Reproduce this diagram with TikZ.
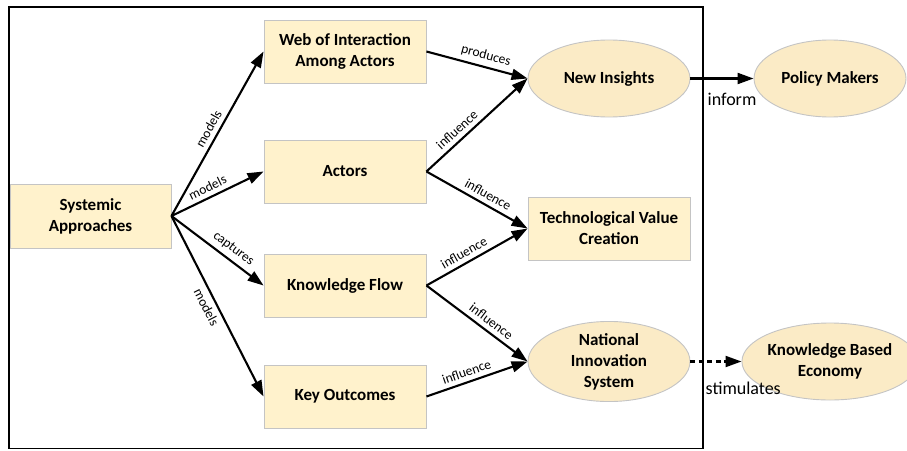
\documentclass[tikz,border=0pt]{standalone}
\usepackage{fontspec}
\setmainfont{Carlito}
\usetikzlibrary{arrows.meta,shapes.geometric,positioning}
\definecolor{boxfill}{HTML}{FFF2CC}
\definecolor{ellfill}{HTML}{FBEBC6}
\definecolor{edgegray}{HTML}{C4C4C4}
\tikzset{
  box/.style={rectangle, fill=boxfill, draw=edgegray, line width=0.9pt,
    minimum width=162pt, minimum height=63pt, align=center, inner sep=2pt,
    font=\fontsize{17}{21}\selectfont\bfseries},
  ell/.style={ellipse, fill=ellfill, draw=edgegray, line width=0.9pt,
    minimum width=162pt, minimum height=77pt, align=center, inner sep=0pt,
    font=\fontsize{17}{21}\selectfont\bfseries},
  arr/.style={line width=2.1pt, -{Triangle[length=16pt,width=11pt]}},
  lab/.style={font=\fontsize{13.5}{15}\selectfont, sloped, inner sep=4.5pt},
  biglab/.style={font=\fontsize{18}{20}\selectfont, inner sep=0pt}
}
\begin{document}
\begin{tikzpicture}[x=1pt,y=-1pt]
\useasboundingbox (0,0) rectangle (907,450);
\draw[line width=1.8pt] (9,7) rectangle (703,448.5);

\node[box, minimum width=161pt, minimum height=64pt] (sys) at (90.5,216) {Systemic\\Approaches};
\node[box] (web) at (345,51.5) {Web of Interaction\\Among Actors};
\node[box] (act) at (345,171.5) {Actors};
\node[box] (kf) at (345,285.5) {Knowledge Flow};
\node[box] (ko) at (345,396.5) {Key Outcomes};
\node[box] (tvc) at (609,228.5) {Technological Value\\Creation};
\node[ell] (ni) at (609,78.5) {New Insights};
\node[ell] (nis) at (609,361.5) {National\\Innovation\\System};
\node[ell, minimum width=152pt] (pm) at (830,78.5) {Policy Makers};
\node[ell, minimum width=152pt] (kbe) at (830,361.5) {Knowledge Based\\Economy};

\draw[arr] (sys.east) -- node[lab, above, pos=0.5] (l1) {models} (web.west);
\draw[arr] (sys.east) -- node[lab, above, pos=0.44] (l2) {models} (act.west);
\draw[arr] (sys.east) -- node[lab, above, pos=0.6] (l3) {captures} (kf.west);
\draw[arr] (sys.east) -- node[lab, below, pos=0.48] (l4) {models} (ko.west);

\draw[arr] (web.east) -- node[lab, above, pos=0.56] (l5) {produces} (ni.west);
\draw[arr] (act.east) -- node[lab, above, pos=0.37] (l6) {influence} (ni.west);
\draw[arr] (act.east) -- node[lab, above, pos=0.56] (l7) {influence} (tvc.west);
\draw[arr] (kf.east) -- node[lab, above, pos=0.42] (l8) {influence} (tvc.west);
\draw[arr] (kf.east) -- node[lab, above, pos=0.58] (l9) {influence} (nis.west);
\draw[arr] (ko.east) -- node[lab, above, pos=0.43] (l10) {influence} (nis.west);

\draw[arr] (ni.east) -- (pm.west);
\node[biglab, anchor=north west] (l11) at ([xshift=17pt,yshift=-14pt]ni.east) {inform};
\draw[arr, dash pattern=on 5pt off 3.5pt] (nis.east) -- (kbe.west);
\node[biglab, anchor=north west] (l12) at ([xshift=15pt,yshift=-20pt]nis.east) {stimulates};
\end{tikzpicture}
\end{document}
